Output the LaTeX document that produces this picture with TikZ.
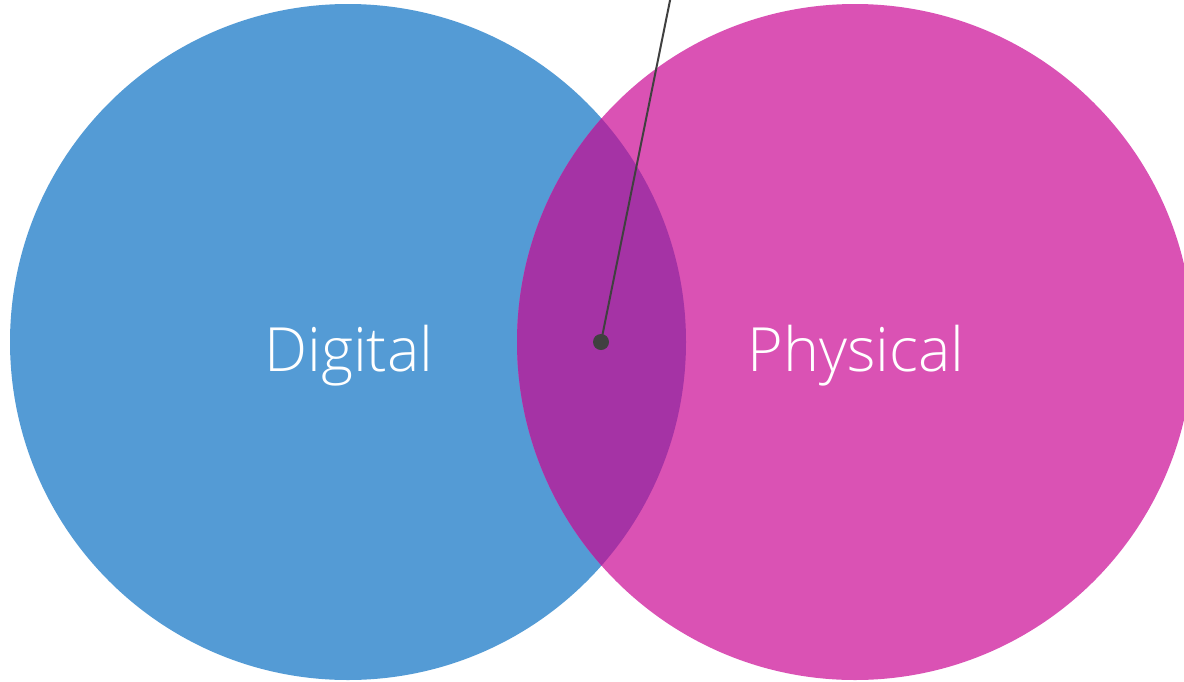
\documentclass[tikz,border=0pt]{standalone}
\usepackage{fontspec}
\setmainfont{Open Sans Light}
\definecolor{digitalblue}{HTML}{549BD5}
\definecolor{physicalpink}{HTML}{DA52B4}
\definecolor{overlap}{HTML}{A533A5}
\definecolor{pointer}{HTML}{404040}
\begin{document}
\begin{tikzpicture}[x=1pt,y=-1pt,
  label text/.style={text=white, font=\fontsize{61}{73}\selectfont, anchor=base},
  set circle/.style={circle, minimum size=676pt, inner sep=0pt, draw=none}]
\useasboundingbox (0,0) rectangle (1184,681);
\node[set circle, fill=digitalblue] (digital) at (348,342) {};
\node[set circle, fill=physicalpink] (physical) at (855,342) {};
% shared region of the two sets
\begin{scope}
  \clip (348,342) circle (338pt);
  \fill[overlap] (855,342) circle (338pt);
\end{scope}
\node[label text] (dlabel) at (349,371) {Digital};
\node[label text] (plabel) at (856,371) {Physical};
\fill[pointer] (601,342) circle (8pt) coordinate (dot);
\coordinate (lineend) at (670.5,-2);
\draw[pointer, line width=2pt] (dot) -- (lineend);
\end{tikzpicture}
\end{document}
